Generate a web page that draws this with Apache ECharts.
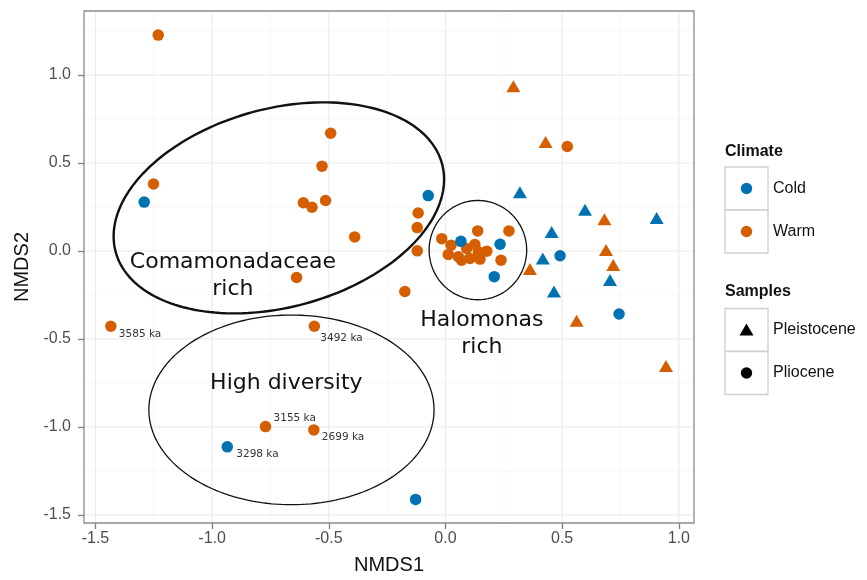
<!DOCTYPE html>
<html>
<head>
<meta charset="utf-8">
<script src="https://cdn.jsdelivr.net/npm/echarts@6/dist/echarts.min.js"></script>
<style>
  html, body { margin: 0; padding: 0; background: #fff; }
  #chart { width: 867px; height: 580px; }
</style>
</head>
<body>
<div id="chart"></div>
<script>
// NMDS ordination of community composition
// Each row: [NMDS1, NMDS2, age label or null]
const warmPliocene = [
  [-1.231, 1.227, null], [-0.492, 0.669, null], [-0.529, 0.482, null], [-1.251, 0.381, null],
  [-0.609, 0.274, null], [-0.572, 0.249, null], [-0.514, 0.287, null], [-0.389, 0.080, null],
  [-0.117, 0.216, null], [-0.121, 0.133, null], [-0.121, 0.001, null], [-0.638, -0.151, null],
  [-0.174, -0.230, null], [-1.434, -0.428, '3585 ka'], [-0.562, -0.428, '3492 ka'],
  [-0.771, -0.998, '3155 ka'], [-0.564, -1.017, '2699 ka'], [0.522, 0.594, null],
  [-0.016, 0.070, null], [0.138, 0.114, null], [0.272, 0.114, null], [0.238, -0.052, null],
  [0.024, 0.033, null], [0.012, -0.020, null], [0.055, -0.033, null], [0.091, 0.014, null],
  [0.126, 0.037, null], [0.141, -0.005, null], [0.177, -0.001, null], [0.105, -0.042, null],
  [0.148, -0.046, null], [0.069, -0.052, null]
];
const coldPliocene = [
  [-1.291, 0.278, null], [-0.074, 0.315, null], [-0.935, -1.113, '3298 ka'], [-0.128, -1.412, null],
  [0.066, 0.055, null], [0.234, 0.038, null], [0.209, -0.146, null], [0.491, -0.027, null],
  [0.744, -0.358, null]
];
const warmPleistocene = [
  [0.291, 0.936, null], [0.429, 0.620, null], [0.681, 0.180, null], [0.688, 0.005, null],
  [0.719, -0.080, null], [0.362, -0.103, null], [0.562, -0.396, null], [0.945, -0.654, null]
];
const coldPleistocene = [
  [0.319, 0.334, null], [0.598, 0.234, null], [0.905, 0.187, null], [0.455, 0.108, null],
  [0.417, -0.042, null], [0.465, -0.230, null], [0.705, -0.165, null]
];

// Axis ticks
const xTicks = [-1.5, -1.0, -0.5, 0.0, 0.5, 1.0];
const yTicks = [-1.5, -1.0, -0.5, 0.0, 0.5, 1.0];
const xMinor = [-1.25, -0.75, -0.25, 0.25, 0.75];
const yMinor = [-1.25, -0.75, -0.25, 0.25, 0.75, 1.25];

// Group ellipses: centre and two conjugate semi-diameters, in NMDS units
const ellipseCenter = [[-0.714, 0.245], [-0.660, -0.903], [0.139, 0.005]];
const ellipseAxisU  = [[0.699, 0.252], [0.611, 0.0], [0.209, 0.0]];
const ellipseAxisV  = [[-0.113, 0.544], [0.0, 0.539], [0.0, 0.282]];

// Group annotations
const groupLabels = ['Comamonadaceae\nrich', 'High diversity', 'Halomonas\nrich'];
const groupLabelPos = [[-0.911, -0.143], [-0.682, -0.750], [0.156, -0.471]];

// Legend entries
const climateNames = ['Cold', 'Warm'];
const sampleNames = ['Pleistocene', 'Pliocene'];

const BLUE = '#0072B2';
const ORANGE = '#D55E00';
const SANS = '"Liberation Sans", Arial, Helvetica, sans-serif';
const DEJAVU = '"DejaVu Sans", sans-serif';
const ellipseWidth = [2.4, 1.3, 1.3];
const ageLabelOffset = {
  '3585 ka': [8, 8], '3492 ka': [6, 12], '3155 ka': [8, -8],
  '2699 ka': [8, 7], '3298 ka': [9, 7]
};

function toItems(rows) {
  return rows.map(r => {
    const item = { value: [r[0], r[1]] };
    if (r[2]) {
      item.label = {
        show: true, formatter: r[2], position: 'inside', align: 'left',
        verticalAlign: 'middle', offset: ageLabelOffset[r[2]],
        fontFamily: DEJAVU, fontSize: 10.5, color: '#333'
      };
    }
    return item;
  });
}

function pointSeries(name, rows, color, shape) {
  return {
    name, type: 'scatter', z: 5,
    symbol: shape,
    symbolSize: shape === 'triangle' ? [14, 12] : 11.5,
    itemStyle: { color, opacity: 1 },
    label: { show: false },
    emphasis: { disabled: true },
    data: toItems(rows)
  };
}

const gridLineSeries = (values, vertical, color, width) => ({
  type: 'custom', silent: true, z: 1,
  data: values.map(v => vertical ? [v, 0] : [0, v]),
  renderItem(params, api) {
    const cs = params.coordSys;
    const p = api.coord([api.value(0), api.value(1)]);
    const shape = vertical
      ? { x1: p[0], y1: cs.y + 1, x2: p[0], y2: cs.y + cs.height - 1 }
      : { x1: cs.x + 1, y1: p[1], x2: cs.x + cs.width - 1, y2: p[1] };
    return { type: 'line', shape, style: { stroke: color, lineWidth: width } };
  }
});

const ellipseSeries = {
  type: 'custom', silent: true, z: 3,
  data: ellipseCenter.map((c, i) => [c[0], c[1], ellipseAxisU[i][0], ellipseAxisU[i][1], ellipseAxisV[i][0], ellipseAxisV[i][1]]),
  encode: { x: 0, y: 1 },
  renderItem(params, api) {
    const cx = api.value(0), cy = api.value(1);
    const ux = api.value(2), uy = api.value(3), vx = api.value(4), vy = api.value(5);
    const pts = [];
    for (let i = 0; i < 180; i++) {
      const t = i / 180 * Math.PI * 2;
      pts.push(api.coord([cx + ux * Math.cos(t) + vx * Math.sin(t), cy + uy * Math.cos(t) + vy * Math.sin(t)]));
    }
    return {
      type: 'polygon', shape: { points: pts },
      style: { fill: 'none', stroke: '#111', lineWidth: ellipseWidth[params.dataIndex] }
    };
  }
};

const annotationSeries = {
  type: 'custom', silent: true, z: 4,
  data: groupLabelPos.map(p => [p[0], p[1]]),
  renderItem(params, api) {
    const p = api.coord([api.value(0), api.value(1)]);
    return {
      type: 'text', x: p[0], y: p[1],
      style: {
        text: groupLabels[params.dataIndex], fill: '#111',
        font: '22px ' + DEJAVU, align: 'center', verticalAlign: 'middle', lineHeight: 27
      }
    };
  }
};

// Legend drawn as boxed keys
const legend = [];
function legendTitle(text, y) {
  legend.push({ type: 'text', x: 725, y, style: { text, fill: '#111', font: 'bold 16px ' + SANS, textVerticalAlign: 'middle', verticalAlign: 'middle' } });
}
function legendKey(y, label, marker) {
  legend.push({ type: 'rect', shape: { x: 725, y, width: 43, height: 43 }, style: { fill: '#fff', stroke: '#cfcfcf', lineWidth: 1.3 } });
  legend.push(marker(746.5, y + 21.5));
  legend.push({ type: 'text', x: 773, y: y + 21.5, style: { text: label, fill: '#111', font: '16px ' + SANS, textVerticalAlign: 'middle', verticalAlign: 'middle' } });
}
const dot = color => (x, y) => ({ type: 'circle', shape: { cx: x, cy: y, r: 5.7 }, style: { fill: color } });
const tri = color => (x, y) => ({ type: 'polygon', shape: { points: [[x, y - 6.5], [x + 7, y + 5.5], [x - 7, y + 5.5]] }, style: { fill: color } });
legendTitle('Climate', 152);
legendKey(167, climateNames[0], dot(BLUE));
legendKey(210, climateNames[1], dot(ORANGE));
legendTitle('Samples', 292);
legendKey(308.5, sampleNames[0], tri('#000'));
legendKey(351.5, sampleNames[1], dot('#000'));

const axisCommon = {
  type: 'value',
  axisLine: { show: false, onZero: false },
  splitLine: { show: false },
  nameLocation: 'middle',
  nameTextStyle: { fontSize: 20, color: '#111', fontFamily: SANS }
};

const option = {
  animation: false,
  backgroundColor: '#fff',
  grid: { show: true, left: 84, right: 173, top: 11, bottom: 53, borderColor: '#8c8c8c', borderWidth: 1.3, backgroundColor: 'transparent' },
  xAxis: Object.assign({}, axisCommon, {
    min: -1.549, max: 1.065, name: 'NMDS1', nameGap: 32, position: 'bottom',
    axisTick: { show: true, length: 6, customValues: xTicks, lineStyle: { color: '#7f7f7f', width: 1.3 } },
    axisLabel: { customValues: xTicks, formatter: v => Number(v).toFixed(1), color: '#4d4d4d', fontSize: 16, fontFamily: SANS, margin: 8 }
  }),
  yAxis: Object.assign({}, axisCommon, {
    min: -1.546, max: 1.364, name: 'NMDS2', nameGap: 52, position: 'left',
    axisTick: { show: true, length: 6, customValues: yTicks, lineStyle: { color: '#7f7f7f', width: 1.3 } },
    axisLabel: { customValues: yTicks, formatter: v => Number(v).toFixed(1), color: '#4d4d4d', fontSize: 16, fontFamily: SANS, margin: 13 }
  }),
  graphic: legend,
  series: [
    gridLineSeries(xMinor, true, '#f5f5f5', 0.8),
    gridLineSeries(yMinor, false, '#f5f5f5', 0.8),
    gridLineSeries(xTicks, true, '#ebebeb', 1.2),
    gridLineSeries(yTicks, false, '#ebebeb', 1.2),
    ellipseSeries,
    annotationSeries,
    pointSeries('Warm Pliocene', warmPliocene, ORANGE, 'circle'),
    pointSeries('Warm Pleistocene', warmPleistocene, ORANGE, 'triangle'),
    pointSeries('Cold Pliocene', coldPliocene, BLUE, 'circle'),
    pointSeries('Cold Pleistocene', coldPleistocene, BLUE, 'triangle')
  ]
};

const chart = echarts.init(document.getElementById('chart'), null, { renderer: 'canvas' });
chart.setOption(option);
</script>
</body>
</html>
